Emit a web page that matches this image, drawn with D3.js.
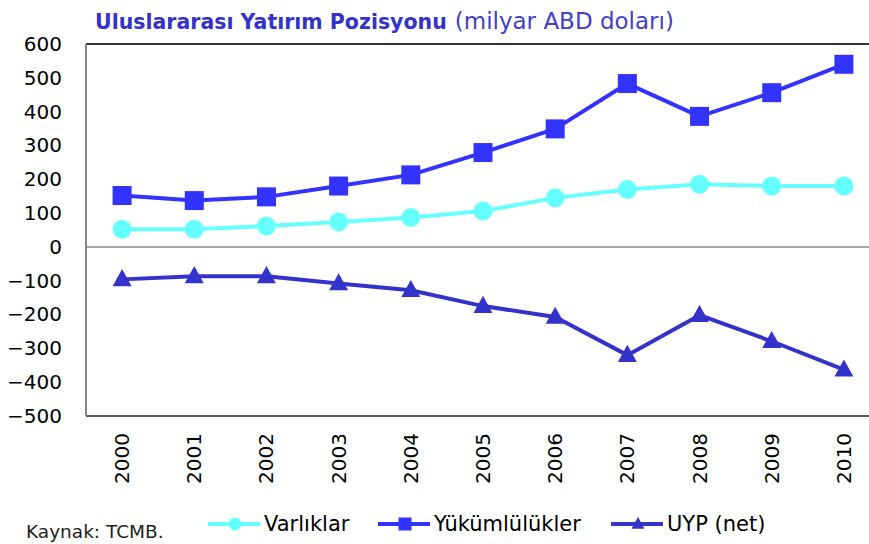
<!DOCTYPE html>
<html>
<head>
<meta charset="utf-8">
<script src="https://cdn.jsdelivr.net/npm/d3@7"></script>
<style>
  body { margin: 0; background: #fff; }
  svg { display: block; font-family: "DejaVu Sans", sans-serif; }
</style>
</head>
<body>
<script>
// data (milyar ABD doları)
var years = ["2000", "2001", "2002", "2003", "2004", "2005", "2006", "2007", "2008", "2009", "2010"];
var varliklar = [52, 52, 62, 74, 87, 106, 145, 170, 185, 180, 180];
var yukumlulukler = [152, 137, 148, 180, 213, 279, 349, 483, 386, 456, 540];
var uyp = [-96, -87, -87, -108, -128, -175, -207, -320, -202, -279, -363];
var yTicks = [600, 500, 400, 300, 200, 100, 0, -100, -200, -300, -400, -500];

var width = 869, height = 544;
// note: "top" is taken by window.top, so plot edges get their own names
var plotLeft = 86, plotRight = 880, plotTop = 44, plotBottom = 416;

var svg = d3.select("body").append("svg")
    .attr("width", width)
    .attr("height", height);

var x = d3.scaleBand().domain(years).range([plotLeft, plotRight]);
var y = d3.scaleLinear().domain([-500, 600]).range([plotBottom, plotTop]);
var cx = function (d) { return x(d) + x.bandwidth() / 2; };

// frame
svg.append("line").attr("x1", plotLeft).attr("x2", width).attr("y1", plotTop).attr("y2", plotTop)
    .style("stroke", "#333").style("stroke-width", 2);
svg.append("line").attr("x1", plotLeft).attr("x2", width).attr("y1", plotBottom).attr("y2", plotBottom)
    .style("stroke", "#222").style("stroke-width", 1.5);
svg.append("line").attr("x1", plotLeft).attr("x2", width).attr("y1", y(0)).attr("y2", y(0))
    .style("stroke", "#888").style("stroke-width", 1.5);
svg.append("line").attr("x1", plotLeft).attr("x2", plotLeft).attr("y1", plotTop).attr("y2", plotBottom)
    .style("stroke", "#888").style("stroke-width", 2);

// y axis labels
var yAxis = d3.axisLeft(y).tickValues(yTicks).tickSize(0).tickPadding(24);
var gy = svg.append("g").attr("transform", "translate(" + plotLeft + ",0)").call(yAxis);
gy.select(".domain").remove();
gy.selectAll("text").style("font-size", "20px").style("fill", "#000")
    .style("font-family", "DejaVu Sans, sans-serif");

// x labels rotated
svg.selectAll(".xlab").data(years).enter().append("text")
    .attr("class", "xlab")
    .attr("transform", function (d) { return "translate(" + (cx(d) + 7) + ",433) rotate(-90)"; })
    .attr("text-anchor", "end")
    .style("font-size", "20px")
    .style("fill", "#000")
    .text(function (d) { return d; });

var series = [
    { name: "Varlıklar", values: varliklar, color: "#66FFFF", marker: "circle" },
    { name: "Yükümlülükler", values: yukumlulukler, color: "#3333FF", marker: "square" },
    { name: "UYP (net)", values: uyp, color: "#3333CC", marker: "triangle" }
];

var line = d3.line()
    .x(function (d, i) { return cx(years[i]); })
    .y(function (d) { return y(d); });

function drawMarker(g, type, color, px, py, size) {
    if (type === "circle") {
        g.append("circle").attr("cx", px).attr("cy", py).attr("r", size / 2).style("fill", color);
    } else if (type === "square") {
        g.append("rect").attr("x", px - size / 2).attr("y", py - size / 2)
            .attr("width", size).attr("height", size).style("fill", color);
    } else {
        var h = size * 0.9;
        g.append("path")
            .attr("d", "M" + px + "," + (py - h * 0.6) + "L" + (px + size / 2) + "," + (py + h * 0.4) +
                "L" + (px - size / 2) + "," + (py + h * 0.4) + "Z")
            .style("fill", color);
    }
}

series.forEach(function (s) {
    var g = svg.append("g");
    g.append("path")
        .datum(s.values)
        .attr("d", line)
        .style("fill", "none")
        .style("stroke", s.color)
        .style("stroke-width", 4)
        .style("stroke-linejoin", "round");
    s.values.forEach(function (v, i) {
        drawMarker(g, s.marker, s.color, cx(years[i]), y(v), 19);
    });
});

// title
var title = svg.append("text")
    .attr("x", 95)
    .attr("y", 29)
    .style("fill", "#3333CC");
title.append("tspan")
    .style("font-weight", "bold")
    .style("font-size", "20.5px")
    .text("Uluslararası Yatırım Pozisyonu");
title.append("tspan")
    .attr("dx", 8)
    .style("font-size", "23px")
    .style("fill", "#4040CC")
    .text("(milyar ABD doları)");

// source
svg.append("text")
    .attr("x", 26)
    .attr("y", 538)
    .style("font-size", "18.5px")
    .style("fill", "#222")
    .text("Kaynak: TCMB.");

// legend
var legendX = [208, 378, 611];
var legendY = 524;
series.forEach(function (s, i) {
    var g = svg.append("g");
    var lx = legendX[i];
    g.append("line")
        .attr("x1", lx).attr("x2", lx + 52)
        .attr("y1", legendY).attr("y2", legendY)
        .style("stroke", s.color).style("stroke-width", 4);
    drawMarker(g, s.marker, s.color, lx + 27, legendY, 13);
    g.append("text")
        .attr("x", lx + 56)
        .attr("y", legendY + 7)
        .style("font-size", "21px")
        .style("fill", "#000")
        .text(s.name);
});
</script>
</body>
</html>
